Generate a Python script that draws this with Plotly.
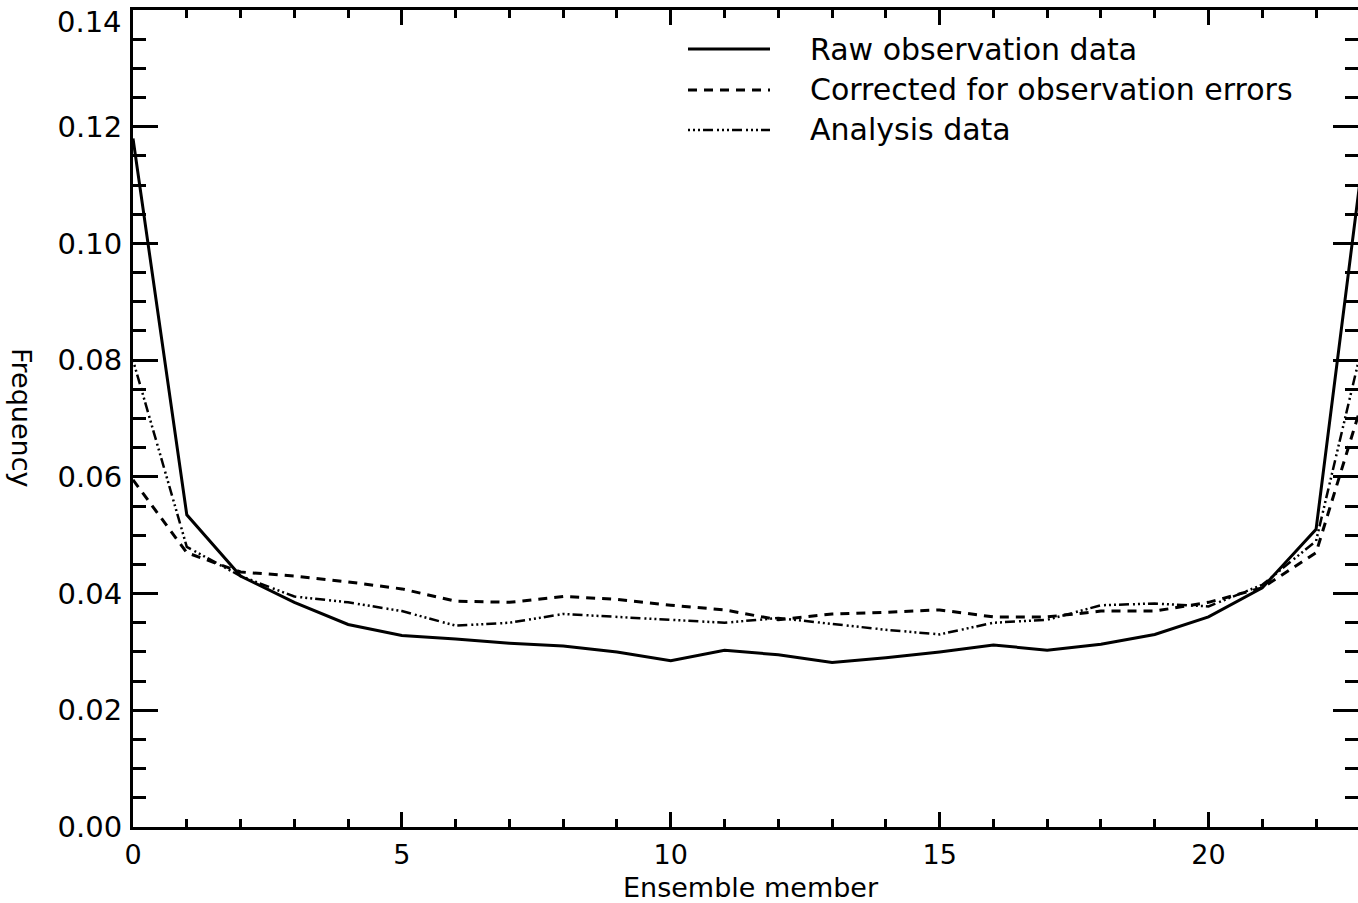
import plotly.graph_objects as go

members = list(range(24))
raw_obs = [0.118, 0.0535, 0.043, 0.0385, 0.0347, 0.0328, 0.0322, 0.0315, 0.031, 0.030,
           0.0285, 0.0303, 0.0295, 0.0282, 0.029, 0.030, 0.0312, 0.0303, 0.0313, 0.033,
           0.036, 0.041, 0.051, 0.124]
corrected = [0.0595, 0.047, 0.0437, 0.043, 0.042, 0.0408, 0.0387, 0.0385, 0.0395, 0.039,
             0.038, 0.0372, 0.0355, 0.0365, 0.0368, 0.0372, 0.036, 0.036, 0.037, 0.037,
             0.0385, 0.041, 0.047, 0.077]
analysis = [0.080, 0.048, 0.043, 0.0395, 0.0385, 0.037, 0.0345, 0.035, 0.0365, 0.036,
            0.0355, 0.035, 0.0358, 0.0348, 0.0338, 0.033, 0.035, 0.0355, 0.038, 0.0383,
            0.0378, 0.0415, 0.049, 0.088]

y_ticks = [0.00, 0.02, 0.04, 0.06, 0.08, 0.10, 0.12, 0.14]
y_tick_labels = ["0.00", "0.02", "0.04", "0.06", "0.08", "0.10", "0.12", "0.14"]
x_ticks = [0, 5, 10, 15, 20]

names = ["Raw observation data", "Corrected for observation errors", "Analysis data"]
dashes = ["solid", "9px,7px", "2px,3px,2px,3px,2px,3px,10px,4px"]
widths = [3, 3, 2.5]
series = [raw_obs, corrected, analysis]

FONT = "DejaVu Sans"
fig = go.Figure()
for nm, ys, d, w in zip(names, series, dashes, widths):
    fig.add_trace(go.Scatter(x=members, y=ys, mode="lines", name=nm,
                             line=dict(color="black", width=w, dash=d),
                             showlegend=False))

L, R, T, B = 133, 0, 10, 76
W, H = 1358, 903
pw = W - L - R
ph = H - T - B

def px_x(p):
    return (p - L) / pw

def px_y(p):
    return (H - B - p) / ph

# custom legend
rows = [49, 90, 130]
for nm, d, w, ry in zip(names, dashes, widths, rows):
    fig.add_shape(type="line", xref="paper", yref="paper",
                  x0=px_x(688), x1=px_x(770), y0=px_y(ry), y1=px_y(ry),
                  line=dict(color="black", width=w, dash=d))
    fig.add_annotation(text=nm, xref="paper", yref="paper", x=px_x(808), y=px_y(ry),
                       xanchor="left", yanchor="middle", showarrow=False,
                       font=dict(family=FONT, size=30, color="black"))

fig.add_annotation(text="Frequency", xref="paper", yref="paper", x=px_x(22), y=px_y(418),
                   xanchor="center", yanchor="middle", showarrow=False, textangle=90,
                   font=dict(family=FONT, size=27, color="black"))
fig.add_annotation(text="Ensemble member", xref="paper", yref="paper", x=px_x(751), y=px_y(888),
                   xanchor="center", yanchor="middle", showarrow=False,
                   font=dict(family=FONT, size=27, color="black"))

# the top tick label sits slightly below its tick (as in the reference)
shown_labels = y_tick_labels[:-1] + [""]
fig.add_annotation(text=y_tick_labels[-1], xref="paper", yref="paper", x=px_x(124), y=px_y(22),
                   xanchor="right", yanchor="middle", showarrow=False,
                   font=dict(family=FONT, size=29, color="black"))

axis_common = dict(showgrid=False, zeroline=False, showline=True, linecolor="black",
                   linewidth=3, mirror="allticks", ticks="inside", tickcolor="black",
                   tickwidth=3, ticklabeloverflow="allow", automargin=False)

fig.update_xaxes(range=[0, 22.78], tickmode="array", tickvals=x_ticks, ticklen=15,
                 minor=dict(dtick=1, tick0=0, ticks="inside", ticklen=8, tickwidth=3, tickcolor="black"),
                 ticklabelstandoff=2, tickfont=dict(family=FONT, size=27, color="black"),
                 **axis_common)
fig.update_yaxes(range=[0, 0.14], tickmode="array", tickvals=y_ticks, ticktext=shown_labels,
                 ticklen=25,
                 minor=dict(dtick=0.005, tick0=0, ticks="inside", ticklen=13, tickwidth=3, tickcolor="black"),
                 ticklabelstandoff=2, tickfont=dict(family=FONT, size=29, color="black"),
                 **axis_common)

fig.update_layout(width=W, height=H, margin=dict(l=L, r=R, t=T, b=B, pad=0, autoexpand=False),
                  plot_bgcolor="white", paper_bgcolor="white",
                  font=dict(family=FONT, color="black"))

fig.write_html("out.html")
